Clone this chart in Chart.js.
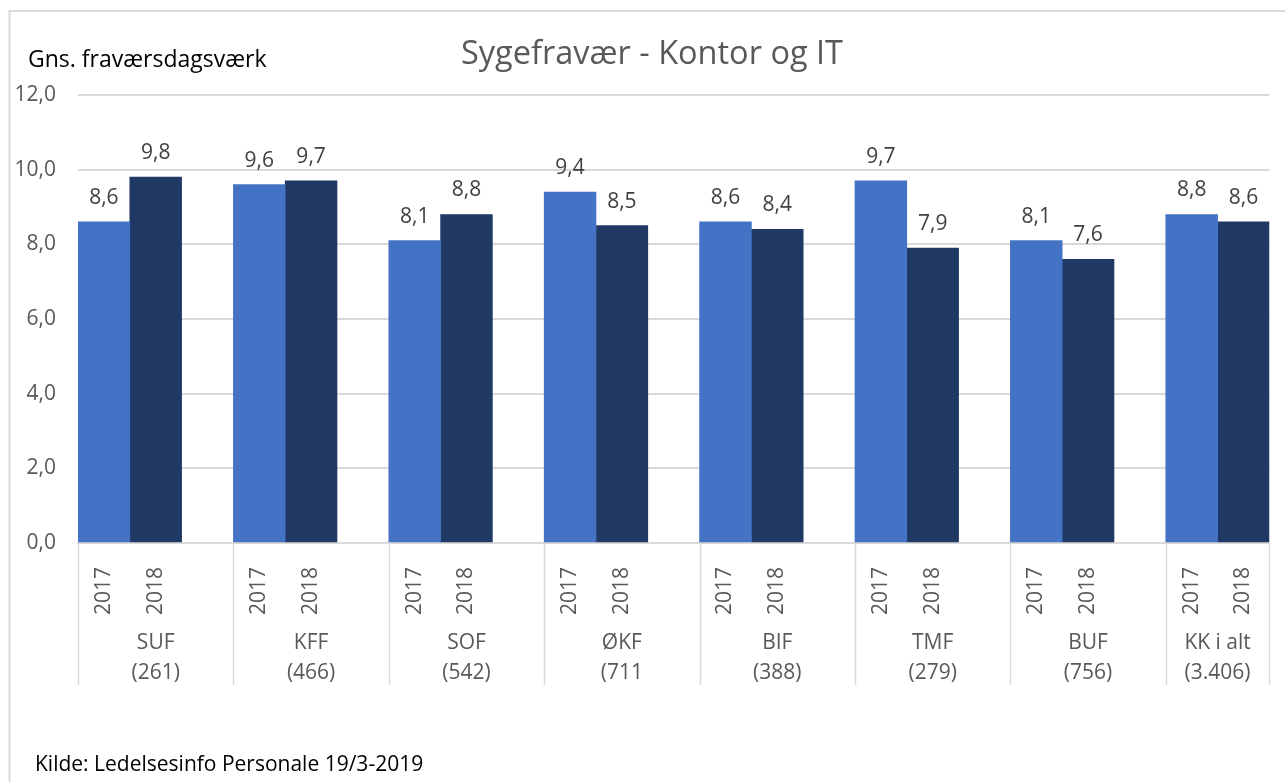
<!DOCTYPE html>
<html>
<head>
<meta charset="utf-8">
<script src="https://cdn.jsdelivr.net/npm/chart.js@4"></script>
<style>
    body { margin: 0; background: #fff; }
    canvas { display: block; }
</style>
</head>
<body>
<canvas id="fravaerChart" width="1285" height="782"></canvas>
<script>
const groupNames = ['SUF', 'KFF', 'SOF', 'ØKF', 'BIF', 'TMF', 'BUF', 'KK i alt'];
const groupCounts = ['(261)', '(466)', '(542)', '(711', '(388)', '(279)', '(756)', '(3.406)'];
const years = ['2017', '2018'];
const values2017 = [8.6, 9.6, 8.1, 9.4, 8.6, 9.7, 8.1, 8.8];
const values2018 = [9.8, 9.7, 8.8, 8.5, 8.4, 7.9, 7.6, 8.6];
const yTicks = [0, 2, 4, 6, 8, 10, 12];

const FONT = "'Open Sans'";
const GREY = '#595959';
const LINE = '#d9d9d9';

// Excel-layout: 2017, 2018 and an empty slot per group (none after the last group)
const slotLabels = [];
const data2017 = [];
const data2018 = [];
const groupStart = [];
groupNames.forEach((g, i) => {
    groupStart.push(slotLabels.length);
    slotLabels.push(years[0], years[1]);
    data2017.push(values2017[i], null);
    data2018.push(null, values2018[i]);
    if (i < groupNames.length - 1) {
        slotLabels.push('');
        data2017.push(null);
        data2018.push(null);
    }
});

const fmt = (v) => v.toFixed(1).replace('.', ',');

const decorations = {
    id: 'decorations',
    beforeDraw(chart) {
        const c = chart.ctx;
        c.save();
        c.strokeStyle = LINE;
        c.lineWidth = 2;
        c.beginPath();
        c.moveTo(9.5, chart.height);
        c.lineTo(9.5, 11);
        c.lineTo(chart.width, 11);
        c.stroke();
        c.restore();
    },
    afterDraw(chart) {
        const c = chart.ctx;
        const x = chart.scales.x;
        const area = chart.chartArea;
        const slot = x.getPixelForValue(1) - x.getPixelForValue(0);
        c.save();

        // value labels
        c.font = '21px ' + FONT;
        c.fillStyle = '#404040';
        c.textAlign = 'center';
        c.textBaseline = 'middle';
        chart.data.datasets.forEach((ds, di) => {
            chart.getDatasetMeta(di).data.forEach((bar, j) => {
                if (ds.data[j] == null) return;
                c.fillText(fmt(ds.data[j]), bar.x, bar.y - 24);
            });
        });

        // group separators and labels
        const bounds = groupStart.map(s => x.getPixelForValue(s) - slot / 2);
        bounds.push(area.right);
        c.strokeStyle = LINE;
        c.lineWidth = 1.5;
        bounds.forEach(b => {
            c.beginPath();
            c.moveTo(Math.round(b) + 0.5, area.bottom);
            c.lineTo(Math.round(b) + 0.5, area.bottom + 142);
            c.stroke();
        });
        c.fillStyle = GREY;
        groupNames.forEach((g, i) => {
            const cx = (bounds[i] + bounds[i + 1]) / 2;
            c.fillText(g, cx, area.bottom + 100);
            c.fillText(groupCounts[i], cx, area.bottom + 130);
        });

        // titles
        c.font = '32.5px ' + FONT;
        c.fillStyle = GREY;
        c.fillText('Sygefravær - Kontor og IT', 652, 55);
        c.textAlign = 'left';
        c.font = '23px ' + FONT;
        c.fillStyle = '#000';
        c.fillText('Gns. fraværsdagsværk', 28, 60);
        c.font = '21px ' + FONT;
        c.fillText('Kilde: Ledelsesinfo Personale 19/3-2019', 35, 765);
        c.restore();
    }
};

const ctx = document.getElementById('fravaerChart').getContext('2d');
const myChart = new Chart(ctx, {
    type: 'bar',
    plugins: [decorations],
    data: {
        labels: slotLabels,
        datasets: [
            {
                label: years[0],
                data: data2017,
                backgroundColor: '#4472c4',
                categoryPercentage: 1,
                barPercentage: 1,
            },
            {
                label: years[1],
                data: data2018,
                backgroundColor: '#203864',
                categoryPercentage: 1,
                barPercentage: 1,
            }
        ]
    },
    options: {
        responsive: false,
        devicePixelRatio: 1,
        animation: false,
        layout: {
            padding: { top: 95, right: 15, bottom: 94, left: 0 }
        },
        plugins: {
            legend: { display: false },
            title: { display: false },
            tooltip: { enabled: false }
        },
        scales: {
            x: {
                stacked: true,
                grid: { display: false },
                border: { color: LINE, width: 2 },
                afterFit: (scale) => { scale.height = 145; },
                ticks: {
                    autoSkip: false,
                    minRotation: 90,
                    maxRotation: 90,
                    padding: 16,
                    color: GREY,
                    font: { family: FONT, size: 21 }
                }
            },
            y: {
                stacked: true,
                min: 0,
                max: 12,
                afterFit: (scale) => { scale.width = 78; },
                afterBuildTicks: (scale) => {
                    scale.ticks = yTicks.map(v => ({ value: v }));
                },
                border: { display: false },
                grid: { color: LINE, lineWidth: 2, drawTicks: false },
                ticks: {
                    padding: 22,
                    color: GREY,
                    font: { family: FONT, size: 21 },
                    callback: (value) => fmt(value)
                }
            }
        }
    }
});
</script>
</body>
</html>
